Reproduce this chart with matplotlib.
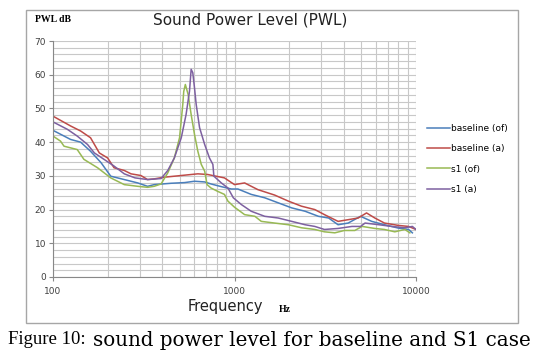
import matplotlib.pyplot as plt
import matplotlib.patches as patches
from matplotlib.ticker import FixedLocator, NullFormatter, MultipleLocator

# values (frequency in Hz, level in dB)
base_of_f = [100, 125, 142, 161, 184, 208, 247, 293, 332, 361, 447, 530, 602, 685, 742, 846,
             961, 1044, 1236, 1467, 1741, 2066, 2450, 2900, 3300, 3720, 4230, 4950, 5700,
             6700, 8000, 9100, 9550]
base_of_db = [43.5, 40.8, 40.0, 37.3, 33.9, 29.9, 28.9, 27.9, 26.9, 27.4, 27.8, 28.0, 28.4,
              28.2, 27.6, 26.8, 26.1, 26.1, 24.5, 23.5, 22.0, 20.5, 19.5, 18.0, 17.5, 15.5,
              16.0, 18.0, 16.5, 15.5, 14.5, 14.1, 13.1]

base_a_f = [100, 125, 142, 161, 180, 200, 217, 247, 269, 305, 332, 361, 410, 487, 628, 712,
            808, 880, 1000, 1137, 1347, 1664, 1982, 2340, 2770, 3130, 3720, 4230, 4800,
            5340, 5930, 6700, 8000, 9100, 10000]
base_a_db = [47.7, 44.8, 43.3, 41.3, 36.8, 35.3, 32.4, 31.6, 30.6, 30.1, 28.9, 29.1, 29.6,
             30.0, 30.6, 30.4, 29.8, 29.4, 27.4, 27.9, 25.9, 24.3, 22.5, 21.0, 20.0, 18.5,
             16.5, 17.0, 17.5, 19.0, 17.5, 16.0, 15.3, 15.0, 14.1]

s1_of_f = [100, 110, 115, 136, 148, 176, 208, 247, 293, 332, 361, 394, 429, 466, 498, 519,
           525, 536, 555, 577, 602, 628, 656, 685, 706, 742, 808, 880, 920, 1000, 1137,
           1295, 1405, 1664, 1982, 2340, 2770, 3130, 3570, 4030, 4600, 5050, 5930, 6700,
           7640, 8680, 9250]
s1_of_db = [41.8, 40.3, 38.8, 37.8, 34.9, 32.4, 29.4, 27.4, 26.9, 26.6, 26.9, 27.6, 30.9,
            35.3, 41.3, 51.2, 55.0, 57.1, 54.2, 48.2, 42.3, 37.3, 33.4, 31.4, 27.4, 26.4,
            25.4, 24.5, 22.5, 20.7, 18.5, 18.0, 16.5, 16.0, 15.5, 14.6, 14.1, 13.4, 13.1,
            13.8, 13.8, 15.0, 14.4, 14.1, 13.4, 14.1, 13.1]

s1_a_f = [100, 120, 136, 155, 169, 191, 217, 247, 283, 332, 394, 429, 466, 509, 541, 565,
          577, 589, 602, 615, 642, 685, 728, 760, 770, 846, 920, 985, 1090, 1236, 1467,
          1741, 2066, 2450, 2770, 3130, 3720, 4440, 4950, 5240, 6250, 7350, 8680, 9550,
          10000]
s1_a_db = [46.0, 43.8, 41.8, 39.3, 36.8, 34.9, 32.9, 30.6, 29.4, 28.9, 29.2, 31.6, 35.3,
           41.3, 48.2, 55.1, 61.6, 60.6, 56.1, 51.2, 44.3, 39.3, 35.3, 33.4, 29.9, 27.9,
           26.4, 23.5, 21.5, 19.5, 18.0, 17.5, 16.5, 15.5, 15.0, 14.1, 14.4, 15.0, 15.0,
           16.0, 15.5, 15.0, 14.6, 15.0, 14.1]

series = [
    ("baseline (of)", base_of_f, base_of_db, "#4a7ebb"),
    ("baseline (a)", base_a_f, base_a_db, "#be4b48"),
    ("s1 (of)", s1_of_f, s1_of_db, "#98b954"),
    ("s1 (a)", s1_a_f, s1_a_db, "#7d60a0"),
]

W, H = 545, 352
fig = plt.figure(figsize=(W / 100, H / 100), dpi=100)

# chart frame
fig.patches.append(patches.Rectangle((26 / W, 1 - 323 / H), 492 / W, 313 / H,
                                     transform=fig.transFigure, fill=False,
                                     edgecolor="#a6a6a6", linewidth=1.0))

ax = fig.add_axes([53 / W, 1 - 277 / H, (416 - 53) / W, (277 - 41) / H])
for name, f, db, c in series:
    ax.plot(f, db, color=c, linewidth=1.1, label=name)

ax.set_xscale("log")
ax.set_xlim(100, 10000)
ax.set_ylim(0, 70)
ax.yaxis.set_major_locator(MultipleLocator(10))
ax.yaxis.set_minor_locator(MultipleLocator(2))
ax.xaxis.set_major_locator(FixedLocator([100, 1000, 10000]))
minors = [m * d for d in (100, 1000) for m in range(2, 10)]
ax.xaxis.set_minor_locator(FixedLocator(minors))
ax.xaxis.set_minor_formatter(NullFormatter())
ax.set_xticklabels(["100", "1000", "10000"])
ax.grid(which="both", color="#c8c8c8", linewidth=0.8)
ax.set_axisbelow(True)
for s in ("top", "right"):
    ax.spines[s].set_visible(False)
for s in ("left", "bottom"):
    ax.spines[s].set_color("#888888")
    ax.spines[s].set_linewidth(0.8)
ax.tick_params(which="major", length=3, color="#888888", labelsize=6.5,
               labelcolor="#404040", pad=2)
ax.tick_params(axis="x", which="major", pad=4)
ax.tick_params(which="minor", length=0)

ax.legend(loc="upper left", bbox_to_anchor=(427 / W, 1 - 124 / H),
          bbox_transform=fig.transFigure, frameon=False, fontsize=6.5,
          handlelength=2.6, handletextpad=0.1, labelspacing=1.25, borderpad=0,
          borderaxespad=0)

fig.text(250 / W, 1 - 20 / H, "Sound Power Level (PWL)", ha="center", va="center",
         fontsize=11, color="#222222")
fig.text(35 / W, 1 - 19 / H, "PWL dB", ha="left", va="center", fontsize=7,
         fontweight="bold", family="Liberation Serif")
fig.text(225 / W, 1 - 307 / H, "Frequency", ha="center", va="center", fontsize=10.5,
         color="#222222")
fig.text(285 / W, 1 - 309 / H, "Hz", ha="center", va="center", fontsize=7,
         fontweight="bold", family="Liberation Serif")

fig.text(8 / W, 1 - 340 / H, "Figure 10:", ha="left", va="center", fontsize=13.5,
         family="Liberation Serif")
fig.text(93 / W, 1 - 340 / H, "sound power level for baseline and S1 case", ha="left",
         va="center", fontsize=14.3, family="DejaVu Serif")

fig.savefig("out.png", dpi=100)
